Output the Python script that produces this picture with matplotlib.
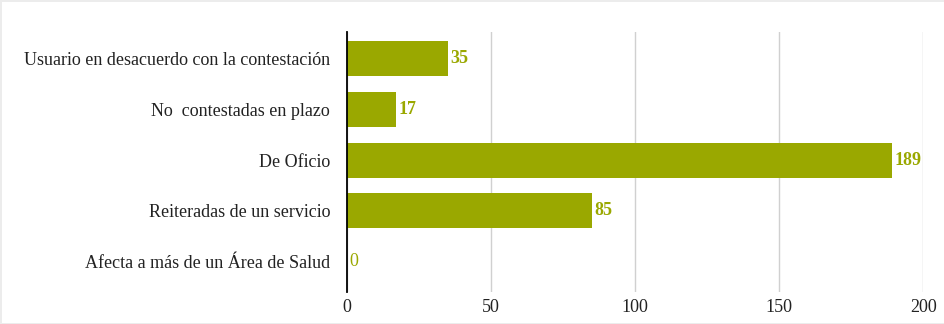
import matplotlib
matplotlib.use("Agg")
import matplotlib.pyplot as plt

categorias = ["Usuario en desacuerdo con la contestación",
              "No  contestadas en plazo",
              "De Oficio",
              "Reiteradas de un servicio",
              "Afecta a más de un Área de Salud"]
valores = [35, 17, 189, 85, 0]
ticks = [0, 50, 100, 150, 200]

color = "#9aa800"
plt.rcParams['font.family'] = ['Liberation Serif', 'DejaVu Serif']

fig = plt.figure(figsize=(9.45, 3.24), dpi=100)
fig.patch.set_edgecolor("#ececec")
fig.patch.set_linewidth(2)
ax = fig.add_axes([0.367, 0.099, 0.61, 0.802])

y = range(len(categorias))
ax.barh(y, valores, height=0.69, color=color, zorder=2)
for i, v in enumerate(valores):
    ax.text(v + 1, i, str(v), va="center", ha="left", color=color,
            fontsize=13, fontweight="bold" if v > 0 else "normal")

ax.set_yticks(list(y))
ax.set_yticklabels(categorias, fontsize=13, color="#222222")
ax.set_xticks(ticks)
ax.set_xticklabels([str(t) for t in ticks], fontsize=13, color="#222222")
ax.set_xlim(0, 200)
ax.set_ylim(4.6, -0.53)
ax.tick_params(length=0, pad=5)
ax.tick_params(axis="y", pad=12)
ax.grid(axis="x", color="#d0d0d0", linewidth=1, zorder=0)
for s in ["top", "right", "bottom"]:
    ax.spines[s].set_visible(False)
ax.spines["left"].set_color("black")
ax.spines["left"].set_linewidth(1.3)
ax.spines["left"].set_zorder(3)

fig.savefig("out.png", dpi=100)
